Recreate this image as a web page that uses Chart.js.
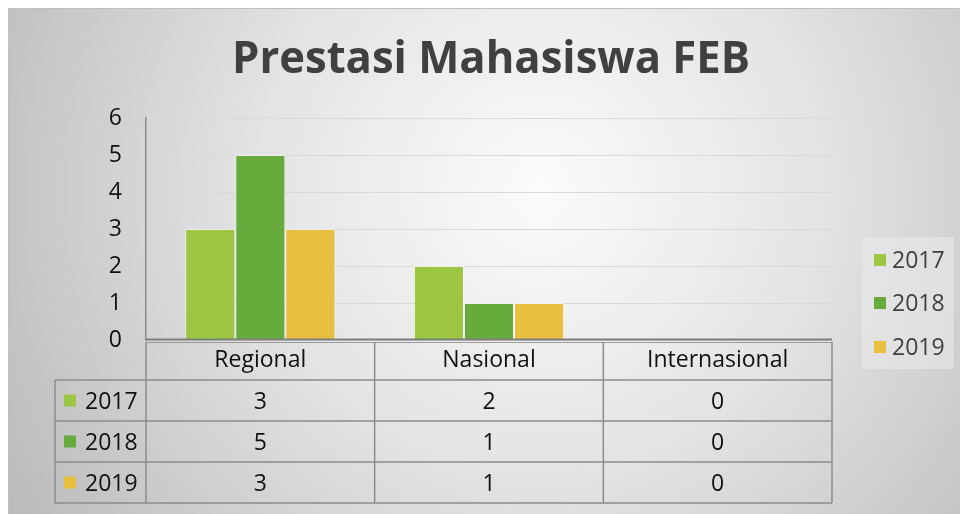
<!DOCTYPE html>
<html>
<head>
<meta charset="utf-8">
<script src="https://cdn.jsdelivr.net/npm/chart.js@4"></script>
<style>
  html, body { margin: 0; padding: 0; background: #fff; }
  #wrap { width: 960px; height: 514px; }
</style>
</head>
<body>
<div id="wrap"><canvas id="grafico" width="960" height="514"></canvas></div>
<script>
const titulo = "Prestasi Mahasiswa FEB";
const kategori = ["Regional", "Nasional", "Internasional"];
const tahun = ["2017", "2018", "2019"];
const nilai2017 = [3, 2, 0];
const nilai2018 = [5, 1, 0];
const nilai2019 = [3, 1, 0];
const warna = ["#9dc642", "#67ab3d", "#e8bf3e"];
const yMax = 6;

const fontUtama = "'Open Sans', 'Noto Sans', sans-serif";

// background with soft radial shade, like the office template
const latarPlugin = {
  id: "latar",
  beforeDraw(chart) {
    const ctx = chart.ctx;
    ctx.save();
    ctx.fillStyle = "#ffffff";
    ctx.fillRect(0, 0, chart.width, chart.height);
    const g = ctx.createRadialGradient(540, 190, 0, 540, 190, 620);
    g.addColorStop(0, "#fbfbfb");
    g.addColorStop(0.45, "#e4e4e4");
    g.addColorStop(1, "#bababa");
    ctx.fillStyle = g;
    ctx.fillRect(8, 8, chart.width - 8, chart.height - 8);
    ctx.strokeStyle = "#bfbfbf";
    ctx.lineWidth = 1;
    ctx.beginPath();
    ctx.moveTo(8.5, chart.height);
    ctx.lineTo(8.5, 8.5);
    ctx.lineTo(chart.width, 8.5);
    ctx.stroke();
    ctx.restore();
  }
};

// title, data table and legend drawn after the bars
const tabelPlugin = {
  id: "tabel",
  afterDraw(chart) {
    const ctx = chart.ctx;
    const area = chart.chartArea;
    const xs = chart.scales.x;
    const lebar = xs.width / kategori.length;
    const kiriTabel = 55;
    const barisY = [area.bottom, 380, 421, 462, 503];

    ctx.save();
    // title
    ctx.fillStyle = "#404040";
    ctx.font = "bold 44px " + fontUtama;
    ctx.textAlign = "center";
    ctx.textBaseline = "alphabetic";
    ctx.fillText(titulo, 491, 73, 518);

    // axis double line
    ctx.strokeStyle = "#7f7f7f";
    ctx.lineWidth = 2;
    ctx.beginPath();
    ctx.moveTo(area.left, area.bottom - 0.5);
    ctx.lineTo(area.right, area.bottom - 0.5);
    ctx.stroke();
    ctx.strokeStyle = "#9a9a9a";
    ctx.lineWidth = 1;
    ctx.beginPath();
    ctx.moveTo(area.left, area.bottom + 2.5);
    ctx.lineTo(area.right, area.bottom + 2.5);
    ctx.stroke();

    // grid of table
    ctx.strokeStyle = "#8c8c8c";
    ctx.lineWidth = 1.5;
    ctx.beginPath();
    for (let r = 1; r < barisY.length; r++) {
      ctx.moveTo(kiriTabel, barisY[r]);
      ctx.lineTo(area.right, barisY[r]);
    }
    ctx.moveTo(kiriTabel, barisY[1]);
    ctx.lineTo(kiriTabel, barisY[4]);
    for (let i = 0; i <= kategori.length; i++) {
      const x = xs.left + lebar * i;
      ctx.moveTo(x, area.bottom + 2);
      ctx.lineTo(x, barisY[4]);
    }
    ctx.stroke();

    // header
    ctx.fillStyle = "#111111";
    ctx.font = "23px " + fontUtama;
    ctx.textAlign = "center";
    kategori.forEach((k, i) => {
      ctx.fillText(k, xs.getPixelForValue(i), 367);
    });

    // rows
    chart.data.datasets.forEach((ds, r) => {
      const yc = (barisY[r + 1] + barisY[r + 2]) / 2;
      ctx.fillStyle = ds.backgroundColor;
      ctx.fillRect(64, yc - 6, 12, 12);
      ctx.fillStyle = "#111111";
      ctx.textAlign = "left";
      ctx.fillText(ds.label, 85, yc + 8);
      ctx.textAlign = "center";
      ds.data.forEach((v, i) => {
        ctx.fillText(String(v), xs.getPixelForValue(i), yc + 8);
      });
    });

    // legend
    ctx.fillStyle = "rgba(235,235,235,0.55)";
    ctx.fillRect(862, 237, 92, 132);
    const legY = [260, 303, 347];
    ctx.font = "23px " + fontUtama;
    chart.data.datasets.forEach((ds, r) => {
      ctx.fillStyle = ds.backgroundColor;
      ctx.fillRect(874, legY[r] - 6, 12, 12);
      ctx.fillStyle = "#404040";
      ctx.textAlign = "left";
      ctx.fillText(ds.label, 892, legY[r] + 8);
    });
    ctx.restore();
  }
};

const dataSeri = [nilai2017, nilai2018, nilai2019];

new Chart(document.getElementById("grafico"), {
  type: "bar",
  data: {
    labels: kategori,
    datasets: tahun.map((t, i) => ({
      label: t,
      data: dataSeri[i],
      backgroundColor: warna[i],
      borderColor: "rgba(255,255,255,0.55)",
      borderWidth: 1,
      categoryPercentage: 0.657,
      barPercentage: 1
    }))
  },
  options: {
    responsive: false,
    animation: false,
    layout: { padding: { left: 0, top: 118, right: 128, bottom: 174 } },
    plugins: {
      legend: { display: false },
      title: { display: false },
      tooltip: { enabled: false }
    },
    scales: {
      x: { display: false },
      y: {
        min: 0,
        max: yMax,
        ticks: {
          stepSize: 1,
          padding: 24,
          color: "#111111",
          font: { family: fontUtama, size: 23 }
        },
        grid: { color: "#d9d9d9", drawTicks: false },
        border: { color: "#8c8c8c", width: 1.5 },
        afterFit(scale) { scale.width = 146; }
      }
    }
  },
  plugins: [latarPlugin, tabelPlugin]
});
</script>
</body>
</html>
